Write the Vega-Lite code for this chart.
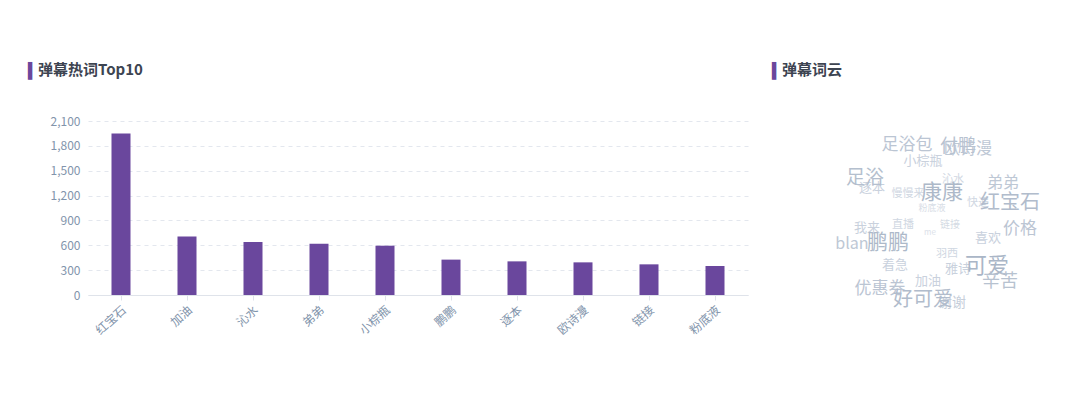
{
  "$schema": "https://vega.github.io/schema/vega-lite/v6.json",
  "background": "white",
  "padding": {"left": 28, "top": 63, "right": 5, "bottom": 5},
  "spacing": 24,
  "config": {
    "view": {"stroke": null},
    "font": "Noto Sans CJK SC"
  },
  "hconcat": [
    {
      "width": 660,
      "height": 174,
      "title": {
        "text": "▍",
        "font": "DejaVu Sans",
        "fontSize": 15,
        "color": "#6b479c",
        "anchor": "start",
        "frame": "bounds",
        "dx": -22,
        "offset": 35,
        "subtitle": "\u200b\u2002\u2006弹幕热词Top10",
        "subtitleFont": "Noto Sans CJK SC",
        "subtitleFontSize": 15,
        "subtitleFontWeight": "bold",
        "subtitleColor": "#3d4451",
        "subtitlePadding": -16
      },
      "data": {
        "values": [
          {"word": "红宝石", "count": 1950},
          {"word": "加油", "count": 705},
          {"word": "沁水", "count": 640},
          {"word": "弟弟", "count": 620},
          {"word": "小棕瓶", "count": 595},
          {"word": "鹏鹏", "count": 427},
          {"word": "逐本", "count": 406},
          {"word": "欧诗漫", "count": 394},
          {"word": "链接", "count": 370},
          {"word": "粉底液", "count": 350}
        ]
      },
      "mark": {"type": "bar", "color": "#6a479d", "width": {"band": 0.32}},
      "encoding": {
        "x": {
          "field": "word",
          "type": "nominal",
          "sort": null,
          "axis": {
            "title": null,
            "labelAngle": -42,
            "labelColor": "#8294ab",
            "labelFontSize": 12,
            "domainColor": "#dfe3ea",
            "tickColor": "#dfe3ea",
            "tickSize": 5,
            "labelPadding": 4
          }
        },
        "y": {
          "field": "count",
          "type": "quantitative",
          "scale": {"domain": [0, 2100], "nice": false},
          "axis": {
            "title": null,
            "values": [0, 300, 600, 900, 1200, 1500, 1800, 2100],
            "format": ",.0f",
            "domain": false,
            "ticks": false,
            "labelColor": "#8294ab",
            "labelFontSize": 12,
            "labelPadding": 8,
            "gridColor": "#e3e7ee",
            "gridDash": [4, 4]
          }
        }
      }
    },
    {
      "width": 288,
      "height": 200,
      "title": {
        "text": "▍",
        "font": "DejaVu Sans",
        "fontSize": 15,
        "color": "#6b479c",
        "anchor": "start",
        "frame": "bounds",
        "offset": 41,
        "subtitle": "\u200b\u2002\u2006弹幕词云",
        "subtitleFont": "Noto Sans CJK SC",
        "subtitleFontSize": 15,
        "subtitleFontWeight": "bold",
        "subtitleColor": "#3d4451",
        "subtitlePadding": -16
      },
      "data": {
        "values": [
          {"word": "足浴包", "cx": 907, "cy": 143, "weight": 61},
          {"word": "欧诗漫", "cx": 968, "cy": 147, "weight": 56},
          {"word": "付鹏", "cx": 958, "cy": 145, "weight": 67},
          {"word": "小棕瓶", "cx": 923, "cy": 159, "weight": 39},
          {"word": "逐本", "cx": 872, "cy": 186, "weight": 39},
          {"word": "足浴", "cx": 865, "cy": 176, "weight": 72},
          {"word": "沁水", "cx": 953, "cy": 178, "weight": 28},
          {"word": "弟弟", "cx": 1003, "cy": 181, "weight": 56},
          {"word": "慢慢来", "cx": 908, "cy": 192, "weight": 28},
          {"word": "粉底液", "cx": 932, "cy": 206, "weight": 17},
          {"word": "康康", "cx": 942, "cy": 191, "weight": 83},
          {"word": "快递", "cx": 978, "cy": 201, "weight": 28},
          {"word": "红宝石", "cx": 1010, "cy": 201, "weight": 78},
          {"word": "我来", "cx": 867, "cy": 226, "weight": 39},
          {"word": "直播", "cx": 903, "cy": 223, "weight": 28},
          {"word": "me", "cx": 930, "cy": 231, "weight": 11},
          {"word": "链接", "cx": 950, "cy": 223, "weight": 22},
          {"word": "价格", "cx": 1020, "cy": 227, "weight": 61},
          {"word": "喜欢", "cx": 988, "cy": 236, "weight": 39},
          {"word": "blan", "cx": 852, "cy": 242, "weight": 56},
          {"word": "鹏鹏", "cx": 888, "cy": 241, "weight": 83},
          {"word": "羽西", "cx": 947, "cy": 252, "weight": 28},
          {"word": "着急", "cx": 895, "cy": 263, "weight": 39},
          {"word": "雅诗", "cx": 958, "cy": 267, "weight": 39},
          {"word": "可爱", "cx": 987, "cy": 264, "weight": 89},
          {"word": "辛苦", "cx": 1000, "cy": 280, "weight": 67},
          {"word": "加油", "cx": 928, "cy": 279, "weight": 39},
          {"word": "优惠券", "cx": 880, "cy": 287, "weight": 61},
          {"word": "谢谢", "cx": 952, "cy": 301, "weight": 44},
          {"word": "好可爱", "cx": 923, "cy": 298, "weight": 78}
        ]
      },
      "mark": {"type": "text", "align": "center", "baseline": "middle", "font": "Noto Sans CJK SC"},
      "encoding": {
        "x": {"field": "cx", "type": "quantitative", "scale": {"domain": [772, 1060], "nice": false, "zero": false}, "axis": null},
        "y": {"field": "cy", "type": "quantitative", "scale": {"domain": [119, 319], "nice": false, "zero": false, "reverse": true}, "axis": null},
        "text": {"field": "word"},
        "size": {"field": "weight", "type": "quantitative", "scale": {"domain": [0, 100], "range": [6, 24]}, "legend": null},
        "color": {"field": "weight", "type": "quantitative", "scale": {"domain": [0, 100], "range": ["#e2e7ee", "#a3b0c2"]}, "legend": null}
      }
    }
  ]
}
